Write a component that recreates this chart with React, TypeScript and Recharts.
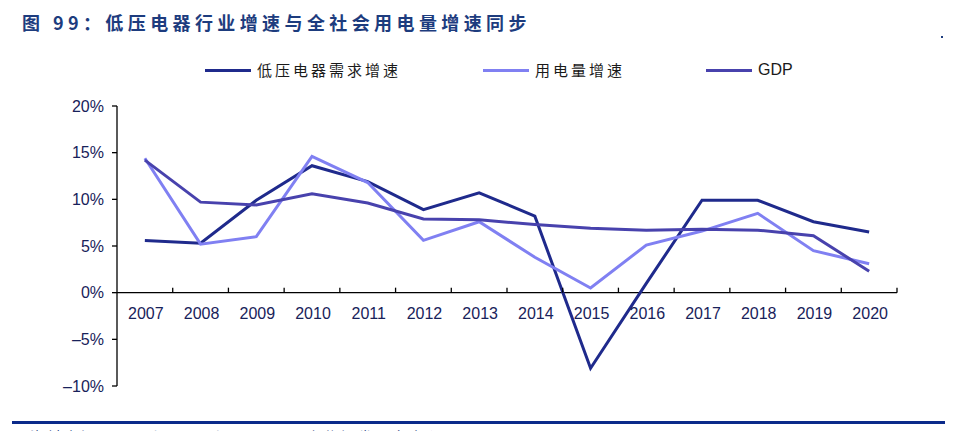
import { LineChart, Line, XAxis, YAxis, ReferenceLine } from 'recharts';

// 年份与三条增速序列（%）
const years = ['2007', '2008', '2009', '2010', '2011', '2012', '2013', '2014', '2015', '2016', '2017', '2018', '2019', '2020'];
const lowVoltage = [5.6, 5.3, 9.9, 13.6, 11.9, 8.9, 10.7, 8.2, -8.1, 1.0, 9.9, 9.9, 7.6, 6.5];
const powerUse = [14.4, 5.2, 6.0, 14.6, 11.8, 5.6, 7.6, 3.8, 0.5, 5.1, 6.6, 8.5, 4.5, 3.1];
const gdp = [14.2, 9.7, 9.4, 10.6, 9.6, 7.9, 7.8, 7.3, 6.9, 6.7, 6.8, 6.7, 6.1, 2.3];
const yTicks = [-10, -5, 0, 5, 10, 15, 20];

const data = years.map((year, i) => ({
  year,
  lowVoltage: lowVoltage[i],
  powerUse: powerUse[i],
  gdp: gdp[i],
}));

const W = 958;
const H = 431;
const PLOT_LEFT = 117;
const PLOT_RIGHT = 897;
const PLOT_TOP = 106;
const PLOT_BOTTOM = 386;
const X_AXIS_H = 2;
const Y_MIN = -10;
const Y_MAX = 20;
const BAND = (PLOT_RIGHT - PLOT_LEFT) / years.length;
const ZERO_Y = PLOT_TOP + ((PLOT_BOTTOM - PLOT_TOP) * Y_MAX) / (Y_MAX - Y_MIN);

const C_LOW = '#1f2a8c';
const C_POWER = '#8080f2';
const C_GDP = '#4842ad';
const C_LABEL = '#18225a';

const numFont = '"Liberation Sans", Arial, sans-serif';
const cjkFont = '"Noto Sans CJK SC", sans-serif';

// x 轴标签画在 0% 线下方，刻度朝上
const XTick = (props: any) => {
  const { x, payload } = props;
  return (
    <g>
      <line x1={x + BAND / 2} x2={x + BAND / 2} y1={ZERO_Y} y2={ZERO_Y - 5} stroke="#000" strokeWidth={1.3} />
      <text x={x + 1} y={ZERO_Y + 26} textAnchor="middle" fontSize={16} fontFamily={numFont} fill={C_LABEL}>
        {payload.value}
      </text>
    </g>
  );
};

const legendItems = [
  { label: '低压电器需求增速', color: C_LOW, x: 205 },
  { label: '用电量增速', color: C_POWER, x: 483 },
  { label: 'GDP', color: C_GDP, x: 706 },
];

export default function App() {
  return (
    <div style={{ position: 'absolute', left: 0, top: 0, width: W, height: H, background: '#fff', overflow: 'hidden' }}>
      <div
        style={{
          position: 'absolute',
          left: 22,
          top: 9,
          fontFamily: cjkFont,
          fontWeight: 700,
          fontSize: 18,
          letterSpacing: 4.4,
          color: '#1d3c7e',
          whiteSpace: 'nowrap',
        }}
      >
        图 99：低压电器行业增速与全社会用电量增速同步
      </div>
      <div style={{ position: 'absolute', left: 941, top: 36, width: 2, height: 2, background: '#1d3c7e' }} />

      {legendItems.map((item) => (
        <div key={item.label} style={{ position: 'absolute', left: item.x, top: 60, display: 'flex', alignItems: 'center', whiteSpace: 'nowrap' }}>
          <div style={{ width: 46, height: 3, background: item.color }} />
          <span
            style={{
              marginLeft: 6,
              fontFamily: item.label === 'GDP' ? '"Liberation Sans Narrow", ' + numFont : cjkFont,
              fontSize: item.label === 'GDP' ? 16 : 15,
              letterSpacing: item.label === 'GDP' ? 0 : 3,
              color: '#1a1a1a',
              lineHeight: '20px',
            }}
          >
            {item.label}
          </span>
        </div>
      ))}

      <div style={{ position: 'absolute', left: 0, top: 0 }}>
        <LineChart
          width={W}
          height={H}
          data={data}
          margin={{ top: PLOT_TOP, right: W - PLOT_RIGHT, bottom: H - PLOT_BOTTOM - X_AXIS_H, left: 0 }}
        >
          <XAxis
            dataKey="year"
            height={X_AXIS_H}
            axisLine={false}
            tickLine={false}
            tick={<XTick />}
            interval={0}
            padding={{ left: BAND / 2, right: BAND / 2 }}
          />
          <YAxis
            width={PLOT_LEFT}
            domain={[Y_MIN, Y_MAX]}
            ticks={yTicks}
            allowDataOverflow
            axisLine={{ stroke: '#000', strokeWidth: 1.3 }}
            tickLine={{ stroke: '#000', strokeWidth: 1.3 }}
            tickSize={5}
            tickMargin={8}
            tick={{ fill: C_LABEL, fontSize: 16, fontFamily: numFont }}
            tickFormatter={(v: number) => (v < 0 ? `–${Math.abs(v)}%` : `${v}%`)}
          />
          <ReferenceLine y={0} stroke="#000" strokeWidth={1.3} />
          <Line type="linear" dataKey="lowVoltage" stroke={C_LOW} strokeWidth={3} dot={false} isAnimationActive={false} />
          <Line type="linear" dataKey="powerUse" stroke={C_POWER} strokeWidth={3} dot={false} isAnimationActive={false} />
          <Line type="linear" dataKey="gdp" stroke={C_GDP} strokeWidth={3} dot={false} isAnimationActive={false} />
        </LineChart>
      </div>

      <div style={{ position: 'absolute', left: 12, top: 421, width: 933, height: 3, background: '#0b2a8a' }} />
      <div
        style={{
          position: 'absolute',
          left: 30,
          top: 426,
          fontFamily: cjkFont,
          fontSize: 14,
          letterSpacing: 3,
          color: '#1d3c7e',
          whiteSpace: 'nowrap',
        }}
      >
        资料来源：Wind，Wind，Ucom，安信证券研究中心
      </div>
    </div>
  );
}
